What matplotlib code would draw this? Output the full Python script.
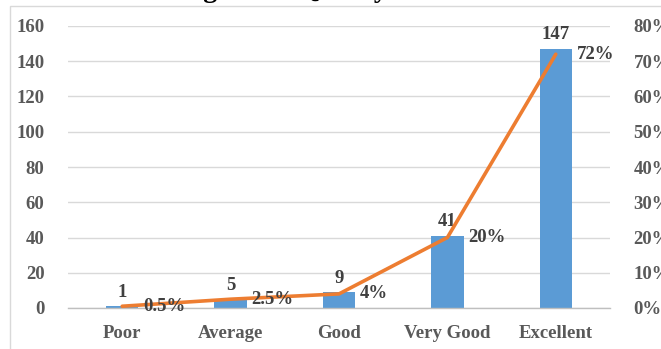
import matplotlib
matplotlib.use("Agg")
import matplotlib.pyplot as plt
from matplotlib.patches import Rectangle

categories = ["Poor", "Average", "Good", "Very Good", "Excellent"]
counts = [1, 5, 9, 41, 147]
percents = [0.5, 2.5, 4, 20, 72]
percent_labels = ["0.5%", "2.5%", "4%", "20%", "72%"]
left_ticks = [0, 20, 40, 60, 80, 100, 120, 140, 160]
right_ticks = [0, 10, 20, 30, 40, 50, 60, 70, 80]
title = "Rating of the Quality"

BAR = "#5B9BD5"
LINE = "#ED7D31"
GRID = "#D9D9D9"
TICK = "#595959"
LABEL = "#404040"
FONT = "Liberation Serif"

plt.rcParams["font.family"] = [FONT, "DejaVu Serif"]
plt.rcParams["font.weight"] = "bold"

fig = plt.figure(figsize=(6.61, 3.49), dpi=100)
W, H = 661, 349

# chart frame
fig.patches.append(Rectangle((10 / W, -0.1), 1.2, (H - 6) / H + 0.1,
                             transform=fig.transFigure, fill=False,
                             edgecolor=GRID, linewidth=1.0, zorder=0))

# title, mostly above the top edge
fig.text(388 / W, 1 + 3 / H, title, ha="right", va="baseline",
         fontsize=20, fontweight="bold", color="black", family=FONT)

ax = fig.add_axes([68 / W, (H - 308) / H, (610 - 68) / W, (308 - 26) / H])
ax2 = ax.twinx()

x = list(range(len(categories)))
ax.bar(x, counts, width=0.30, color=BAR, zorder=2)
ax.set_xlim(-0.5, len(categories) - 0.5)
ax.set_ylim(0, 160)
ax.set_yticks(left_ticks)
ax.yaxis.grid(True, color=GRID, linewidth=1.0, zorder=0)
ax.set_axisbelow(True)
ax.set_xticks(x)
ax.set_xticklabels(categories)
ax.tick_params(axis="both", length=0, labelsize=13.5, colors=TICK)
ax.tick_params(axis="x", pad=12)
ax.tick_params(axis="y", pad=17)
for s in ["top", "right", "left"]:
    ax.spines[s].set_visible(False)
ax.spines["bottom"].set_color("#BFBFBF")
ax.spines["bottom"].set_linewidth(1.0)

for xi, c in zip(x, counts):
    ax.annotate(str(c), (xi, c), xytext=(0, 4), textcoords="offset points",
                ha="center", va="bottom", fontsize=13.5, fontweight="bold",
                color=LABEL)

ax2.plot(x, percents, color=LINE, linewidth=2.6, solid_capstyle="round",
         zorder=3)
ax2.set_ylim(0, 80)
ax2.set_yticks(right_ticks)
ax2.set_yticklabels([f"{t}%" for t in right_ticks])
ax2.tick_params(axis="y", length=0, labelsize=13.5, colors=TICK, pad=17)
for s in ["top", "right", "left", "bottom"]:
    ax2.spines[s].set_visible(False)

for xi, p, lab in zip(x, percents, percent_labels):
    ax2.annotate(lab, (xi, p), xytext=(15, 0), textcoords="offset points",
                 ha="left", va="center", fontsize=13.5, fontweight="bold",
                 color=LABEL)

fig.savefig("out.png", dpi=100)
